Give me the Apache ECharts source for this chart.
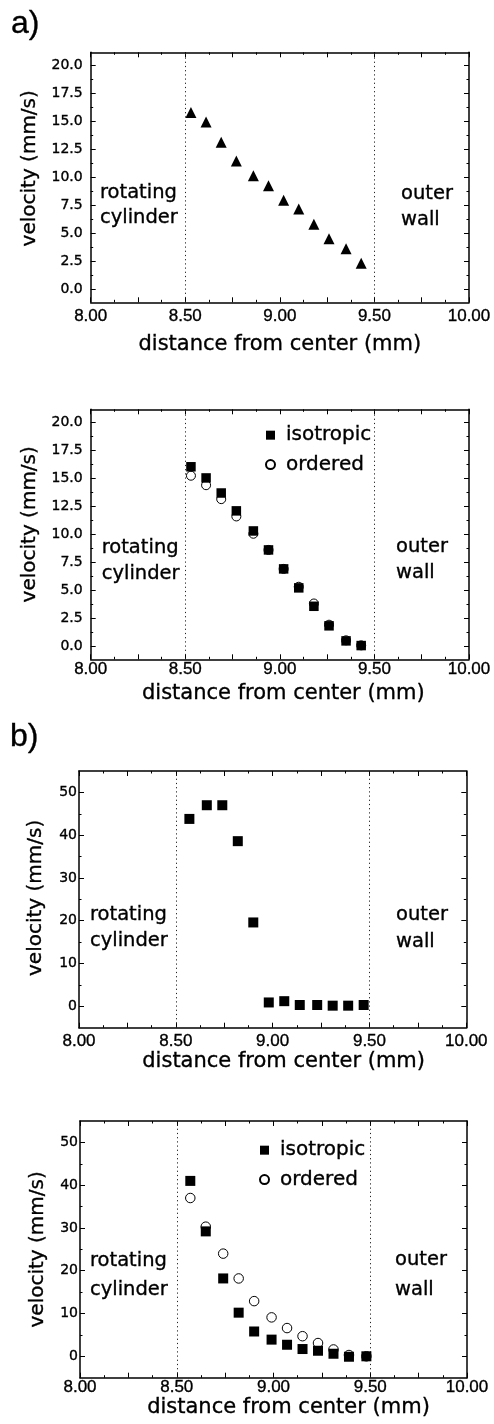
<!DOCTYPE html>
<html><head><meta charset="utf-8">
<script src="https://cdn.jsdelivr.net/npm/echarts@6/dist/echarts.min.js"></script>
<style>html,body{margin:0;padding:0;background:#fff}#c{width:494px;height:1424px}</style>
</head><body><div id="c"></div>
<script>
// ---------- data ----------
const xA = [8.53, 8.61, 8.69, 8.77, 8.86, 8.94, 9.02, 9.10, 9.18, 9.26, 9.35, 9.43];
const vA1 = [15.8, 14.95, 13.15, 11.45, 10.15, 9.25, 7.95, 7.15, 5.8, 4.5, 3.6, 2.3];
const vA2iso = [16.05, 15.05, 13.7, 12.1, 10.3, 8.6, 6.9, 5.2, 3.55, 1.8, 0.45, 0.03];
const vA2ord = [15.25, 14.4, 13.15, 11.6, 10.05, 8.6, 6.9, 5.3, 3.8, 1.9, 0.5, 0.05];
const xB1 = [8.57, 8.66, 8.74, 8.82, 8.90, 8.98, 9.06, 9.14, 9.23, 9.31, 9.39, 9.47];
const vB1 = [43.8, 47.0, 47.0, 38.6, 19.6, 0.9, 1.2, 0.3, 0.3, 0.15, 0.15, 0.3];
const xB2 = [8.57, 8.65, 8.74, 8.82, 8.90, 8.99, 9.07, 9.15, 9.23, 9.31, 9.39, 9.48];
const vB2iso = [41.0, 29.2, 18.2, 10.2, 5.8, 3.9, 2.7, 1.7, 1.3, 0.6, -0.1, 0.0];
const vB2ord = [37.0, 30.3, 24.0, 18.2, 12.9, 9.1, 6.6, 4.7, 3.1, 1.6, 0.3, 0.0];
const wallPositions = [8.5, 9.5];

// ---------- ticks ----------
const xLabels = [8, 8.5, 9, 9.5, 10];
const yMajorA = [0, 2.5, 5, 7.5, 10, 12.5, 15, 17.5, 20];
const yMinorA = [1.25, 3.75, 6.25, 8.75, 11.25, 13.75, 16.25, 18.75];
const yMajorB = [0, 10, 20, 30, 40, 50];
const yMinorB = [5, 15, 25, 35, 45];

const xName = 'distance from center (mm)';
const yName = 'velocity (mm/s)';

const grids = [
  {left: 90.7, top: 52.3, width: 378.3, height: 250},
  {left: 90.7, top: 409.3, width: 378.3, height: 250},
  {left: 79, top: 771, width: 387.3, height: 256.7},
  {left: 80, top: 1121, width: 387, height: 256.7}
];
const yRange = [[-1.2, 21.2], [-1.2, 21.2], [-5, 55], [-5, 55]];
const yMaj = [yMajorA, yMajorA, yMajorB, yMajorB];
const yMin = [yMinorA, yMinorA, yMinorB, yMinorB];
const yDec = [1, 1, 0, 0];
const xLabMargin = [6, 1.5, 5, 1.5];
const xNameGap = [32, 24, 23, 18];
const xNameShift = [0, 7, 22, 30];
const yLabMargin = [8, 8, 2, 2];
const yNameGap = [46, 46, 33, 32];
const yNameShift = [18, 20, 3, 0];

const black = '#000';
const heavy = {textBorderColor: black, textBorderWidth: 0.35};
const axisLine = {show: true, onZero: false, lineStyle: {color: black, width: 1.5}};
const xAxes = [], yAxes = [];
grids.forEach((g, i) => {
  const xBase = {
    gridIndex: i, type: 'value', min: 8, max: 10, interval: 0.25,
    axisLine: axisLine, splitLine: {show: false},
    axisTick: {show: true, inside: true, length: 5, lineStyle: {color: black, width: 1}},
    minorTick: {show: true, splitNumber: 2, length: 2.5, lineStyle: {color: black, width: 1}},
    minorSplitLine: {show: false}
  };
  xAxes.push(Object.assign({}, xBase, {
    position: 'bottom',
    axisLabel: Object.assign({show: true, customValues: xLabels, formatter: v => Number(v).toFixed(2),
      margin: xLabMargin[i], color: black, fontFamily: 'Liberation Sans', fontSize: 17}, heavy),
    name: xName, nameLocation: 'middle', nameGap: xNameGap[i],
    nameTextStyle: Object.assign({fontFamily: 'DejaVu Sans', fontSize: 21, color: black,
      padding: [0, 0, 0, xNameShift[i]]}, heavy)
  }));
  xAxes.push(Object.assign({}, xBase, {position: 'top', axisLabel: {show: false}}));
  const [mn, mx] = yRange[i];
  const yBase = {gridIndex: i, type: 'value', min: mn, max: mx, splitLine: {show: false}};
  yAxes.push(Object.assign({}, yBase, {
    position: 'left', axisLine: axisLine,
    axisTick: {show: true, inside: true, length: 5, customValues: yMaj[i], lineStyle: {color: black, width: 1}},
    axisLabel: Object.assign({show: true, customValues: yMaj[i], formatter: v => Number(v).toFixed(yDec[i]),
      margin: yLabMargin[i], color: black, fontFamily: 'DejaVu Sans', fontSize: 14}, heavy),
    name: yName, nameLocation: 'middle', nameGap: yNameGap[i],
    nameTextStyle: Object.assign({fontFamily: 'DejaVu Sans', fontSize: 20, color: black,
      padding: [0, 0, 0, yNameShift[i]]}, heavy)
  }));
  yAxes.push(Object.assign({}, yBase, {
    position: 'left', axisLine: {show: false},
    axisTick: {show: true, inside: true, length: 2.5, customValues: yMin[i], lineStyle: {color: black, width: 1}},
    axisLabel: {show: false}
  }));
  yAxes.push(Object.assign({}, yBase, {
    position: 'right', axisLine: axisLine,
    axisTick: {show: true, inside: true, length: 5, customValues: yMaj[i], lineStyle: {color: black, width: 1}},
    axisLabel: {show: false}
  }));
  yAxes.push(Object.assign({}, yBase, {
    position: 'right', axisLine: {show: false},
    axisTick: {show: true, inside: true, length: 2.5, customValues: yMin[i], lineStyle: {color: black, width: 1}},
    axisLabel: {show: false}
  }));
});

const zip = (xs, vs) => xs.map((x, k) => [x, vs[k]]);
const walls = {
  silent: true, symbol: ['none', 'none'], label: {show: false},
  lineStyle: {type: [1.2, 3], color: '#222', width: 1, opacity: 1}, z: 1,
  emphasis: {disabled: true},
  data: wallPositions.map(w => ({xAxis: w}))
};
const solid = {color: black, opacity: 1};
const hollow = {color: '#fff', borderColor: black, borderWidth: 1, opacity: 1};
function s(name, gi, data, symbol, size, style, z, mark) {
  const o = {name: name, type: 'scatter', xAxisIndex: 2 * gi, yAxisIndex: 4 * gi,
    data: data, symbol: symbol, symbolSize: size, itemStyle: style, z: z, silent: true};
  if (mark) o.markLine = walls;
  return o;
}
const series = [
  s('triangles', 0, zip(xA, vA1), 'triangle', 11, solid, 3, true),
  s('ordered', 1, zip(xA, vA2ord), 'circle', 9, hollow, 3, true),
  s('isotropic', 1, zip(xA, vA2iso), 'rect', 9.5, solid, 4, false),
  s('squares', 2, zip(xB1, vB1), 'rect', 10, solid, 3, true),
  s('ordered', 3, zip(xB2, vB2ord), 'circle', 9.5, hollow, 3, true),
  s('isotropic', 3, zip(xB2, vB2iso), 'rect', 10, solid, 4, false)
];

const legendBase = {
  orient: 'vertical', itemWidth: 9, itemHeight: 9, itemGap: 9, selectedMode: false,
  textStyle: Object.assign({fontFamily: 'DejaVu Sans', fontSize: 20, color: black, padding: [0, 0, 0, 6]}, heavy),
  data: [{name: 'isotropic', icon: 'rect'}, {name: 'ordered', icon: 'circle'}]
};
const legends = [
  Object.assign({}, legendBase, {left: 260, top: 420}),
  Object.assign({}, legendBase, {left: 254, top: 1135})
];

function txt(text, x, y, size, lh, fam) {
  return {type: 'text', x: x, y: y, silent: true, style: {
    text: text, fill: black, stroke: black, lineWidth: 0.35, font: size + 'px "' + fam + '"',
    textAlign: 'left', textVerticalAlign: 'middle', lineHeight: lh}};
}
const graphics = [
  txt('a)', 11, 24, 32, 36, 'Liberation Sans'),
  txt('b)', 10, 737, 32, 36, 'Liberation Sans'),
  txt('rotating\ncylinder', 100, 205.5, 19.5, 25.5, 'DejaVu Sans'),
  txt('outer\nwall', 401, 207, 19.5, 26.5, 'DejaVu Sans'),
  txt('rotating\ncylinder', 101.7, 561, 19.5, 25.2, 'DejaVu Sans'),
  txt('outer\nwall', 396, 560, 19.5, 26.5, 'DejaVu Sans'),
  txt('rotating\ncylinder', 90, 928, 19.5, 26.6, 'DejaVu Sans'),
  txt('outer\nwall', 396, 928.6, 19.5, 26.6, 'DejaVu Sans'),
  txt('rotating\ncylinder', 90, 1275.5, 19.5, 28.4, 'DejaVu Sans'),
  txt('outer\nwall', 395, 1275, 19.5, 29.4, 'DejaVu Sans')
];

const chart = echarts.init(document.getElementById('c'), null, {renderer: 'canvas'});
chart.setOption({
  backgroundColor: '#fff',
  animation: false,
  grid: grids,
  xAxis: xAxes,
  yAxis: yAxes,
  legend: legends,
  series: series,
  graphic: graphics
});
</script>
</body></html>
